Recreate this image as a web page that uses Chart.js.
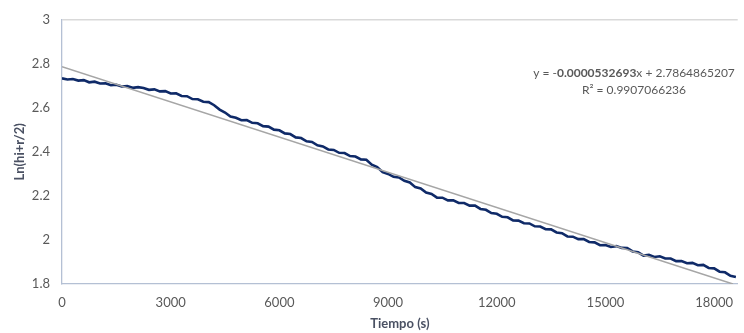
<!DOCTYPE html>
<html>
<head>
<meta charset="utf-8">
<script src="https://cdn.jsdelivr.net/npm/chart.js@4.4.1/dist/chart.umd.min.js"></script>
<style>
  body { margin: 0; background: #fff; }
  #wrap { width: 744px; height: 333px; }
</style>
</head>
<body>
<div id="wrap"><canvas id="lnChart"></canvas></div>
<script>
// sampling interval of the readings, seconds
const sampleStep = 150;

// Ln(hi+r/2), one value every 150 s starting at 0 s
const lnValues = [
  2.734, 2.729, 2.731, 2.724, 2.726, 2.716, 2.719, 2.711, 2.712, 2.703,
  2.705, 2.697, 2.699, 2.691, 2.694, 2.690, 2.682, 2.684, 2.675, 2.676,
  2.665, 2.666, 2.654, 2.653, 2.640, 2.639, 2.628, 2.626, 2.612, 2.592,
  2.579, 2.561, 2.555, 2.544, 2.545, 2.532, 2.530, 2.517, 2.515, 2.501,
  2.498, 2.484, 2.481, 2.466, 2.463, 2.448, 2.445, 2.430, 2.425, 2.411,
  2.409, 2.396, 2.395, 2.381, 2.379, 2.366, 2.364, 2.342, 2.331, 2.308,
  2.300, 2.287, 2.284, 2.269, 2.261, 2.240, 2.234, 2.215, 2.209, 2.192,
  2.192, 2.180, 2.180, 2.168, 2.168, 2.156, 2.156, 2.141, 2.137, 2.122,
  2.119, 2.105, 2.103, 2.089, 2.088, 2.076, 2.075, 2.062, 2.061, 2.049,
  2.048, 2.034, 2.031, 2.016, 2.015, 2.004, 2.004, 1.991, 1.989, 1.976,
  1.977, 1.968, 1.972, 1.964, 1.963, 1.948, 1.944, 1.929, 1.932, 1.923,
  1.926, 1.916, 1.916, 1.904, 1.904, 1.894, 1.896, 1.885, 1.887, 1.873,
  1.871, 1.856, 1.853, 1.837, 1.832
];

// Excel linear trendline shown on the chart
const trendSlope = -0.0000532693;
const trendIntercept = 2.7864865207;
const rSquared = '0.9907066236';

const xTicks = [0, 3000, 6000, 9000, 12000, 15000, 18000];
const yMin = 1.8, yMax = 3;

const points = lnValues.map((v, i) => ({ x: i * sampleStep, y: v }));
const trendEnd = (yMin - trendIntercept) / trendSlope;
const trendPoints = [
  { x: 0, y: trendIntercept },
  { x: trendEnd, y: trendIntercept + trendSlope * trendEnd }
];

const tickFont = { family: 'Lato', size: 13 };
const titleFont = { family: 'Lato', size: 13, weight: 'bold' };

// equation label in the upper right, coefficient in bold like the source
const equationLabel = {
  id: 'equationLabel',
  afterDraw(chart) {
    const ctx = chart.ctx;
    const cx = 634;
    const parts = [
      ['y = -', 'normal'],
      [Math.abs(trendSlope).toFixed(10), 'bold'],
      ['x + ' + trendIntercept.toFixed(10), 'normal']
    ];
    ctx.save();
    ctx.fillStyle = '#595959';
    ctx.textBaseline = 'middle';
    let total = 0;
    parts.forEach(p => {
      ctx.font = p[1] + ' 12px Lato';
      total += ctx.measureText(p[0]).width;
    });
    let x = cx - total / 2;
    ctx.textAlign = 'left';
    parts.forEach(p => {
      ctx.font = p[1] + ' 12px Lato';
      ctx.fillText(p[0], x, 73);
      x += ctx.measureText(p[0]).width;
    });
    ctx.font = 'normal 12px Lato';
    ctx.textAlign = 'center';
    ctx.fillText('R\u00B2 = ' + rSquared, cx, 90);
    ctx.restore();
  }
};

new Chart(document.getElementById('lnChart'), {
  type: 'scatter',
  data: {
    datasets: [
      {
        label: 'Lineal',
        data: trendPoints,
        showLine: true,
        borderColor: '#a6a6a6',
        borderWidth: 1.5,
        pointRadius: 0
      },
      {
        label: 'Ln(hi+r/2)',
        data: points,
        showLine: true,
        borderColor: '#0f2a68',
        borderWidth: 2.6,
        pointRadius: 0,
        tension: 0
      }
    ]
  },
  options: {
    responsive: true,
    maintainAspectRatio: false,
    animation: false,
    layout: { padding: { top: 15, right: 0, left: 0, bottom: 0 } },
    plugins: {
      legend: { display: false },
      tooltip: { enabled: false }
    },
    scales: {
      x: {
        type: 'linear',
        min: 0,
        max: 18650,
        afterBuildTicks: s => { s.ticks = xTicks.map(v => ({ value: v })); },
        afterFit: s => { s.height = 49; },
        grid: { display: false, drawTicks: false },
        border: { display: true, color: '#b4c0d4', width: 1.3 },
        ticks: {
          color: '#595959', font: tickFont, padding: 11, maxRotation: 0,
          callback: v => String(v)
        },
        title: {
          display: true,
          text: 'Tiempo (s)',
          color: '#4a5163',
          font: titleFont,
          padding: { top: 0, bottom: 1 }
        }
      },
      y: {
        min: yMin,
        max: yMax,
        ticks: {
          stepSize: 0.2, color: '#595959', font: tickFont, padding: 12,
          callback: v => String(Math.round(v * 10) / 10)
        },
        afterFit: s => { s.width = 62; },
        grid: {
          drawTicks: false,
          color: c => (c.tick && c.tick.value === yMax ? '#d9d9d9' : 'rgba(0,0,0,0)'),
          lineWidth: 1.5
        },
        border: { display: true, color: '#b4c0d4', width: 1.3 },
        title: {
          display: true,
          text: 'Ln(hi+r/2)',
          color: '#4a5163',
          font: titleFont,
          padding: { top: 12, bottom: 0 }
        }
      }
    }
  },
  plugins: [equationLabel]
});
</script>
</body>
</html>
